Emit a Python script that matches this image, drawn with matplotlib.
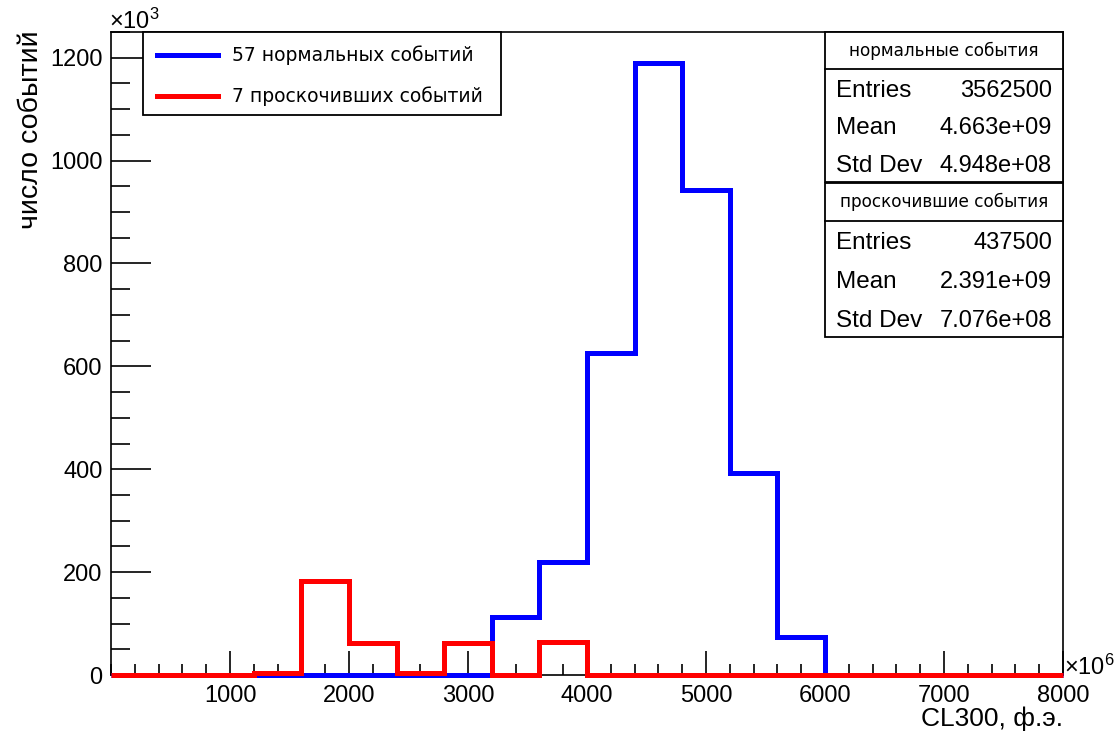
import numpy as np
import matplotlib.pyplot as plt
from matplotlib.ticker import MultipleLocator
from matplotlib.patches import Rectangle
from matplotlib.lines import Line2D

# histogram data (values in units of 10^3, x in units of 10^6)
bin_edges = [0, 400, 800, 1200, 1600, 2000, 2400, 2800, 3200, 3600, 4000,
             4400, 4800, 5200, 5600, 6000, 6400, 6800, 7200, 7600, 8000]
normal_counts = [0, 0, 0, 0, 0, 0, 0, 0, 112, 220, 626,
                 1190, 943, 393, 74, 0, 0, 0, 0, 0]
passed_counts = [0, 0, 0, 3, 183, 63, 3, 63, 0, 64, 0,
                 0, 0, 0, 0, 0, 0, 0, 0, 0]

legend_labels = ['57 нормальных событий', '7 проскочивших событий']
stat_titles = ['нормальные события', 'проскочившие события']
stat_rows = [
    [('Entries', '3562500'), ('Mean', '4.663e+09'), ('Std Dev', '4.948e+08')],
    [('Entries', '437500'), ('Mean', '2.391e+09'), ('Std Dev', '7.076e+08')],
]

plt.rcParams['font.family'] = ['Liberation Sans', 'DejaVu Sans']
plt.rcParams['mathtext.default'] = 'regular'

W, H = 1115, 735
fig = plt.figure(figsize=(W / 100, H / 100), dpi=100)


def fx(x):
    return x / W


def fy(y):
    return 1 - y / H


ax = fig.add_axes([fx(111), fy(675), fx(1063) - fx(111), fy(32) - fy(675)])
ax.set_xlim(0, 8000)
ax.set_ylim(0, 1250)

ax.stairs(normal_counts, bin_edges, color='#0000ff', linewidth=3.6, clip_on=False, zorder=3)
ax.stairs(passed_counts, bin_edges, color='#ff0000', linewidth=3.6, clip_on=False, zorder=4)

ax.set_xticks(range(1000, 8001, 1000))
ax.xaxis.set_minor_locator(MultipleLocator(200))
ax.set_yticks(range(0, 1201, 200))
ax.yaxis.set_minor_locator(MultipleLocator(50))
ax.tick_params(axis='x', which='major', direction='in', length=17, width=1.2, labelsize=17, pad=7)
ax.tick_params(axis='x', which='minor', direction='in', length=8, width=1.2)
ax.tick_params(axis='y', which='major', direction='in', length=29, width=1.2, labelsize=17, pad=6)
ax.tick_params(axis='y', which='minor', direction='in', length=14, width=1.2)
for s in ax.spines.values():
    s.set_linewidth(1.2)

fig.text(fx(1063), fy(719), 'CL300, ф.э.', ha='right', va='center', fontsize=19)
fig.text(fx(31), fy(30), 'число событий', rotation=90, ha='center', va='top', fontsize=20.5)
fig.text(fx(109), fy(21), '×10$^{3}$', ha='left', va='center', fontsize=17)
fig.text(fx(1064), fy(667), '×10$^{6}$', ha='left', va='center', fontsize=17)

# legend box
fig.patches.append(Rectangle((fx(143), fy(115)), fx(501) - fx(143), fy(32) - fy(115),
                             transform=fig.transFigure, fill=True, facecolor='white',
                             edgecolor='black', linewidth=1.3, zorder=5))
for y, c, lab in zip([55, 96], ['#0000ff', '#ff0000'], legend_labels):
    fig.lines.append(Line2D([fx(157), fx(218)], [fy(y), fy(y)], transform=fig.transFigure,
                            color=c, linewidth=3.6, zorder=6))
    fig.text(fx(232), fy(y), lab, ha='left', va='center', fontsize=13.5,
             family='DejaVu Sans', zorder=6)

# stat boxes
for top, bottom, divider, title, rows in zip([32, 183], [182, 337], [69, 221],
                                             stat_titles, stat_rows):
    fig.patches.append(Rectangle((fx(825), fy(bottom)), fx(1063) - fx(825), fy(top) - fy(bottom),
                                 transform=fig.transFigure, facecolor='white',
                                 edgecolor='black', linewidth=1.3, zorder=5))
    fig.lines.append(Line2D([fx(825), fx(1063)], [fy(divider), fy(divider)],
                            transform=fig.transFigure, color='black', linewidth=1.3, zorder=6))
    fig.text(fx(944), fy((top + divider) / 2), title, ha='center', va='center',
             fontsize=12.2, family='DejaVu Sans', zorder=6)
    step = (bottom - divider) / 3
    for i, (name, val) in enumerate(rows):
        y = divider + step * (i + 0.5) + 3
        fig.text(fx(836), fy(y), name, ha='left', va='center', fontsize=17.5, zorder=6)
        fig.text(fx(1052), fy(y), val, ha='right', va='center', fontsize=17, zorder=6)

fig.savefig('out.png', dpi=100)
